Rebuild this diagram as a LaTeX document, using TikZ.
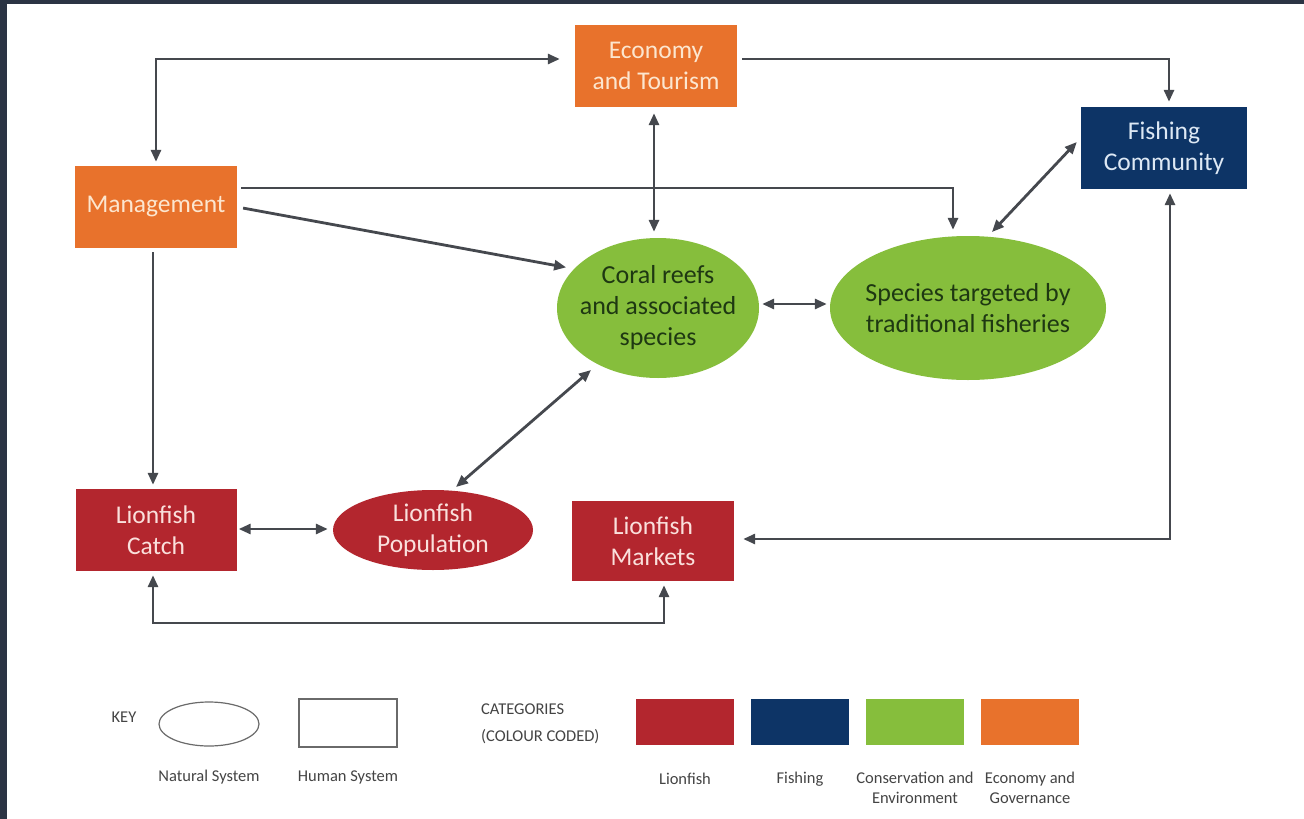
\documentclass[tikz,border=0pt]{standalone}
\usepackage{fontspec}
\setmainfont{Carlito}
\usetikzlibrary{arrows.meta,shapes.geometric,calc}
\definecolor{bgdark}{HTML}{2B3444}
\definecolor{orangeC}{HTML}{E8722C}
\definecolor{redC}{HTML}{B3262E}
\definecolor{navyC}{HTML}{0D3466}
\definecolor{greenC}{HTML}{86BE3C}
\definecolor{lineC}{HTML}{45484E}
\definecolor{keyC}{HTML}{6A6A6A}
\definecolor{orangeT}{HTML}{FCE6CF}
\definecolor{navyT}{HTML}{DDE8F4}
\definecolor{redT}{HTML}{FAE0DC}
\definecolor{greenT}{HTML}{1E3812}
\definecolor{keyT}{HTML}{444444}
\begin{document}
\begin{tikzpicture}[x=1pt,y=-1pt,
  box/.style={rectangle, minimum width=162pt, minimum height=82pt, inner sep=0pt, align=center, font=\fontsize{25.5}{30.5}\selectfont},
  ell/.style={ellipse, inner sep=-14pt, align=center, font=\fontsize{25.5}{30.5}\selectfont},
  conn/.style={draw=lineC, line width=2.8pt},
  arr/.style={conn, -{Triangle[length=12pt,width=10pt]}},
  dbl/.style={conn, {Triangle[length=12pt,width=10pt]}-{Triangle[length=12pt,width=10pt]}},
  keytxt/.style={font=\fontsize{16.5}{20}\selectfont, text=keyT, inner sep=0pt},
  swatch/.style={rectangle, minimum width=98pt, minimum height=46pt, inner sep=0pt}
]
\useasboundingbox (0,0) rectangle (1304,819);
\fill[bgdark] (0,0) rectangle (1304,819);
\fill[white] (7,4) rectangle (1304,819);

% nodes
\node[box, fill=orangeC, text=orangeT] (econ) at (656,66) {Economy\\and Tourism};
\node[box, fill=orangeC, text=orangeT] (mgmt) at (156,207) {Management};
\node[box, fill=navyC, text=navyT, minimum width=166pt] (fish) at (1164,148) {Fishing\\Community};
\node[ell, fill=greenC, text=greenT, minimum width=202pt, minimum height=140pt, font=\fontsize{26}{31}\selectfont] (coral) at (658,308) {Coral reefs\\and associated\\species};
\node[ell, fill=greenC, text=greenT, minimum width=276pt, minimum height=144pt, font=\fontsize{26}{31}\selectfont] (species) at (968,308) {Species targeted by\\traditional fisheries};
\node[box, fill=redC, text=redT, minimum width=161pt] (catch) at (156,530) {Lionfish\\Catch};
\node[ell, fill=redC, text=redT, minimum width=200pt, minimum height=80pt] (pop) at (433,530) {Lionfish\\Population};
\node[box, fill=redC, text=redT, minimum height=80pt] (markets) at (653,541) {Lionfish\\Markets};

% connectors
\draw[dbl, shorten <=15pt, shorten >=4pt] ([yshift=7pt]econ.west) -| (mgmt.north);
\draw[arr, shorten <=5pt, shorten >=5pt] ([yshift=7pt]econ.east) -| ([xshift=5pt]fish.north);
\draw[dbl, shorten <=6pt, shorten >=6pt] ([xshift=-2pt]econ.south) -- ([xshift=-2pt]econ.south |- coral.north);
\draw[arr, shorten <=4pt, shorten >=6pt] ([yshift=19pt]mgmt.east) -| ([xshift=-15pt]species.north);
\draw[arr, shorten <=6pt, shorten >=8pt] (mgmt.east) -- (coral.155);
\draw[dbl, shorten <=3pt, shorten >=3pt] ([yshift=4pt]coral.east) -- ([yshift=4pt]species.west);
\draw[dbl] ([xshift=24pt,yshift=76pt]species.center) -- ([xshift=-4pt,yshift=6pt]fish.west);
\draw[dbl, shorten <=9pt, shorten >=4pt] ([yshift=2pt]markets.east) -| ([xshift=6pt]fish.south);
\draw[arr, shorten <=4pt, shorten >=4pt] ([xshift=-3pt]mgmt.south) -- ([xshift=-3pt]catch.north);
\draw[dbl, shorten <=2pt, shorten >=5pt] ([yshift=1pt]catch.east) -- ([yshift=1pt]pop.west);
\draw[dbl] ([xshift=23pt,yshift=43pt]pop.center) -- ([xshift=-67pt,yshift=-62pt]coral.center);
\draw[dbl, shorten <=4pt, shorten >=4pt] ([xshift=-3pt]catch.south) |- (400,623) -| ([xshift=11pt]markets.south);

% key
\node[keytxt] (keylbl) at (124,717) {KEY};
\node[ellipse, draw=keyC, line width=1.2pt, minimum width=100pt, minimum height=44pt, inner sep=0pt] (kell) at (209,724) {};
\node[rectangle, draw=keyC, line width=1.2pt, minimum width=98pt, minimum height=48pt, inner sep=0pt] (kbox) at (348,723) {};
\node[keytxt] (kelltxt) at (209,777) {Natural System};
\node[keytxt] (kboxtxt) at (348,777) {Human System};
\node[keytxt, anchor=west] (cat1) at (481,709) {CATEGORIES};
\node[keytxt, anchor=west] (cat2) at (481,737) {(COLOUR CODED)};
\node[swatch, fill=redC] (s1) at (685,722) {};
\node[swatch, fill=navyC] (s2) at (800,722) {};
\node[swatch, fill=greenC] (s3) at (915,722) {};
\node[swatch, fill=orangeC] (s4) at (1030,722) {};
\node[keytxt] (t1) at (685,779) {Lionfish};
\node[keytxt] (t2) at (800,779) {Fishing};
\node[keytxt, align=center, font=\fontsize{16.5}{20}\selectfont] (t3) at (915,788) {Conservation and\\Environment};
\node[keytxt, align=center, font=\fontsize{16.5}{20}\selectfont] (t4) at (1030,788) {Economy and\\Governance};
\end{tikzpicture}
\end{document}
